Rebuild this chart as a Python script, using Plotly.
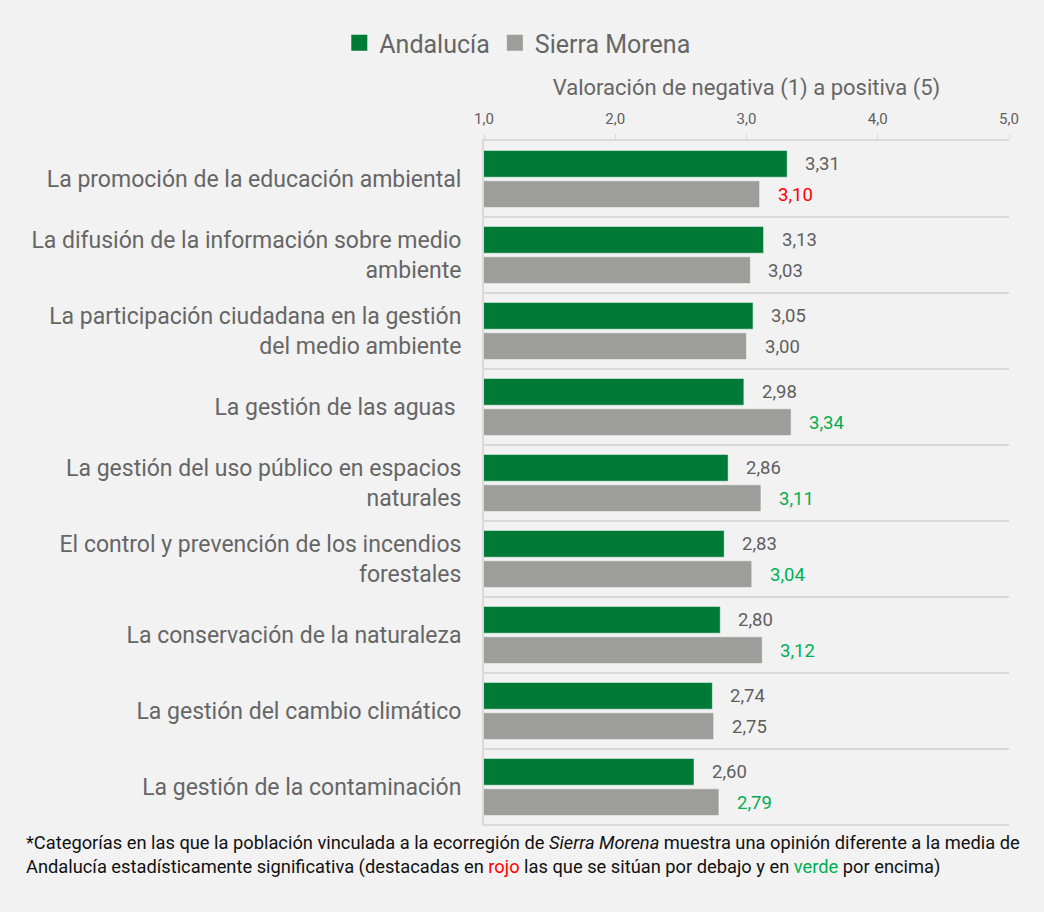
import plotly.graph_objects as go

categories = [
    "La promoción de la educación ambiental",
    "La difusión de la información sobre medio<br>ambiente",
    "La participación ciudadana en la gestión<br>del medio ambiente",
    "La gestión de las aguas ",
    "La gestión del uso público en espacios<br>naturales",
    "El control y prevención de los incendios<br>forestales",
    "La conservación de la naturaleza",
    "La gestión del cambio climático",
    "La gestión de la contaminación",
]
andalucia = [3.31, 3.13, 3.05, 2.98, 2.86, 2.83, 2.80, 2.74, 2.60]
sierra_morena = [3.10, 3.03, 3.00, 3.34, 3.11, 3.04, 3.12, 2.75, 2.79]
# significance flag for Sierra Morena: -1 below (red), 1 above (green), 0 none
sierra_signif = [-1, 0, 0, 1, 1, 1, 1, 0, 1]
tick_vals = [1, 2, 3, 4, 5]
tick_text = ["1,0", "2,0", "3,0", "4,0", "5,0"]

GREEN = "#007a37"
GRAY = "#9d9d9c"
TXT = "#5f5f5f"
FONT = "Roboto, 'DejaVu Sans', sans-serif"

fig = go.Figure()
fig.add_trace(go.Bar(
    y=categories, x=andalucia, orientation="h", name="Andalucía", showlegend=False,
    marker=dict(color=GREEN, line=dict(color="rgba(255,255,255,0.5)", width=1)),
))
fig.add_trace(go.Bar(
    y=categories, x=sierra_morena, orientation="h", name="Sierra Morena", showlegend=False,
    marker=dict(color=GRAY, line=dict(color="rgba(255,255,255,0.5)", width=1)),
))
# legend proxies with larger square symbols
for name, col in [("Andalucía", GREEN), ("Sierra Morena", GRAY)]:
    fig.add_trace(go.Scatter(x=[None], y=[None], mode="markers", name=name,
                             marker=dict(symbol="square", size=16, color=col),
                             hoverinfo="skip"))

fmt = lambda v: f"{v:.2f}".replace(".", ",")
sig_color = {-1: "#ff0000", 0: TXT, 1: "#00b050"}
annotations = []
for c, a, s, f in zip(categories, andalucia, sierra_morena, sierra_signif):
    annotations.append(dict(x=a, y=c, xref="x", yref="y", text=fmt(a), showarrow=False,
                            xanchor="left", xshift=16, yshift=15, yanchor="middle",
                            font=dict(size=18.5, color=TXT, family=FONT)))
    annotations.append(dict(x=s, y=c, xref="x", yref="y", text=fmt(s), showarrow=False,
                            xanchor="left", xshift=16, yshift=-16, yanchor="middle",
                            font=dict(size=18.5, color=sig_color[f], family=FONT)))

footer = ("*Categorías en las que la población vinculada a la ecorregión de <i>Sierra Morena</i> "
          "muestra una opinión diferente a la media de<br>Andalucía estadísticamente significativa "
          "(destacadas en <span style='color:#ff0000'>rojo</span> las que se sitúan por debajo y en "
          "<span style='color:#00b050'>verde</span> por encima)")
annotations.append(dict(x=-0.877, y=-0.006, xref="paper", yref="paper", text=footer,
                        showarrow=False, xanchor="left", yanchor="top", align="left",
                        font=dict(size=18.3, color="#111111", family=FONT)))

shapes = []
n = len(categories)
for i in range(n):
    shapes.append(dict(type="line", xref="x", yref="y", x0=1, x1=5, y0=i + 0.5, y1=i + 0.5,
                       line=dict(color="#d9d9d9", width=2), layer="below"))

fig.update_layout(
    width=1044, height=912,
    paper_bgcolor="#f2f2f2", plot_bgcolor="#f2f2f2",
    margin=dict(l=484, r=35, t=141, b=86),
    barmode="group", bargap=0.2, bargroupgap=0.12,
    font=dict(family=FONT, color=TXT),
    showlegend=True,
    legend=dict(orientation="h", xref="container", yref="container", x=0.325, y=0.978,
                xanchor="left", yanchor="top", font=dict(size=25, color="#666666"),
                itemwidth=30, traceorder="normal", itemsizing="trace"),
    xaxis=dict(side="top", range=[1, 5], tickvals=tick_vals, ticktext=tick_text,
               showgrid=False, zeroline=False, showline=True, linecolor="#d9d9d9", linewidth=2,
               ticks="outside", ticklen=5, tickcolor="#d9d9d9", tickwidth=1,
               ticklabelstandoff=4,
               tickfont=dict(size=15, color=TXT),
               title=dict(text="Valoración de negativa (1) a positiva (5)",
                          font=dict(size=22, color="#666666"), standoff=8)),
    yaxis=dict(autorange="reversed", showgrid=False, showline=True, linecolor="#d9d9d9",
               linewidth=2, ticks="", tickfont=dict(size=23, color="#666666"),
               ticklabelstandoff=16),
    annotations=annotations,
    shapes=shapes,
)
fig.write_html("out.html", config={"displayModeBar": False},
               post_script="document.body.style.margin='0';document.body.style.background='#f2f2f2';")
